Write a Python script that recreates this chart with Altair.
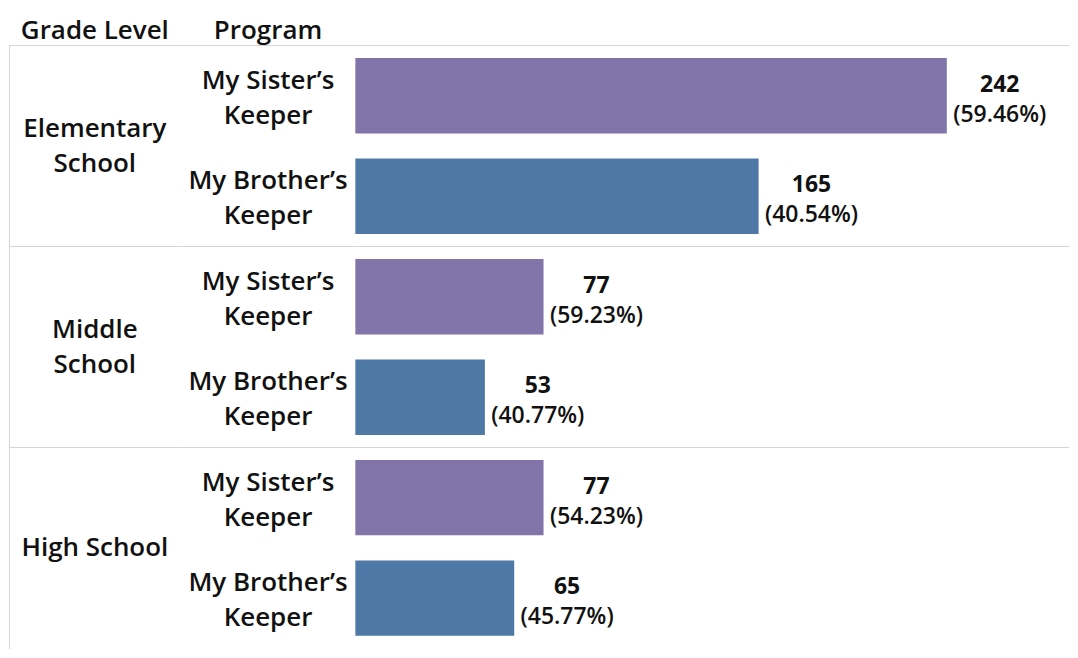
import altair as alt
import pandas as pd

grades = ["Elementary School", "Middle School", "High School"]
grade_line1 = ["Elementary", "Middle", "High School"]
grade_line2 = ["School", "School", ""]
programs = ["My Sister\u2019s Keeper", "My Brother\u2019s Keeper"]
program_line1 = ["My Sister\u2019s", "My Brother\u2019s"]
program_line2 = ["Keeper", "Keeper"]
sister_counts = [242, 77, 77]
brother_counts = [165, 53, 65]
sister_pct = ["59.46%", "59.23%", "54.23%"]
brother_pct = ["40.54%", "40.77%", "45.77%"]
colors = ["#8174a9", "#4e79a7"]

rows = []
for i, g in enumerate(grades):
    for j, p in enumerate(programs):
        cnt = sister_counts[i] if j == 0 else brother_counts[i]
        pct = sister_pct[i] if j == 0 else brother_pct[i]
        rows.append({"grade": g, "program": p,
                     "l1": program_line1[j], "l2": program_line2[j],
                     "count": cnt, "pct": "(" + pct + ")"})
df = pd.DataFrame(rows)
gdf = pd.DataFrame({"grade": grades, "l1": grade_line1, "l2": grade_line2})
gdf["two"] = gdf["l2"] != ""

FONT = "Open Sans"
TXT = "#111111"
LINE = "#d4d4d4"
H = 604

def title(t):
    return alt.TitleParams(text=t, fontSize=26, font=FONT, fontWeight=600,
                           color=TXT, anchor="middle", offset=1)

yscale = alt.Scale(domain=grades, paddingInner=0, paddingOuter=0)
yoff = alt.YOffset("program:N", sort=programs,
                   scale=alt.Scale(domain=programs, paddingInner=0.25, paddingOuter=0.125))
axis_line = alt.Axis(labels=False, ticks=False, title=None, domainColor=LINE,
                     domainWidth=1, grid=False)
Y = lambda ax: alt.Y("grade:N", scale=yscale, sort=grades, axis=ax)
txt_style = dict(font=FONT, fontSize=26, fontWeight=600, color=TXT, align="center")

rule_a = alt.Chart(gdf).mark_rule(color=LINE, strokeWidth=1).encode(
    y=alt.Y("grade:N", bandPosition=0, scale=yscale, sort=grades, axis=axis_line))
base_a = alt.Chart(gdf)
a1 = base_a.mark_text(dy=-17, **txt_style).encode(y=Y(axis_line), text="l1:N").transform_filter("datum.two")
a2 = base_a.mark_text(dy=18, **txt_style).encode(y=Y(axis_line), text="l2:N").transform_filter("datum.two")
a3 = base_a.mark_text(dy=0, **txt_style).encode(y=Y(axis_line), text="l1:N").transform_filter("!datum.two")
panel_a = alt.layer(rule_a, a1, a2, a3).properties(width=172, height=H, title=title("Grade Level"))

rule_b = alt.Chart(gdf).mark_rule(color=LINE, strokeWidth=1).encode(
    y=alt.Y("grade:N", bandPosition=0, scale=yscale, sort=grades, axis=None))
base_b = alt.Chart(df)
b1 = base_b.mark_text(dy=-15, **txt_style).encode(y=Y(None), yOffset=yoff, text="l1:N")
b2 = base_b.mark_text(dy=20, **txt_style).encode(y=Y(None), yOffset=yoff, text="l2:N")
panel_b = alt.layer(rule_b, b1, b2).properties(width=175, height=H, title=title("Program"))

xscale = alt.Scale(domain=[0, 292], nice=False, zero=True)
rule_c = alt.Chart(gdf).mark_rule(color=LINE, strokeWidth=1).encode(
    y=alt.Y("grade:N", bandPosition=0, scale=yscale, sort=grades, axis=axis_line))
bars = alt.Chart(df).mark_bar().encode(
    y=Y(axis_line),
    yOffset=yoff,
    x=alt.X("count:Q", scale=xscale, axis=None),
    color=alt.Color("program:N", scale=alt.Scale(domain=programs, range=colors), legend=None))
num = alt.Chart(df).mark_text(font=FONT, fontSize=23, fontWeight="bold", color=TXT,
                              align="center", baseline="alphabetic", dx=53, dy=-4).encode(
    y=Y(None), yOffset=yoff,
    x=alt.X("count:Q", scale=xscale, axis=None),
    text="count:Q")
pct = alt.Chart(df).mark_text(font=FONT, fontSize=23, fontWeight=600, color=TXT,
                              align="center", baseline="alphabetic", dx=53, dy=26).encode(
    y=Y(None), yOffset=yoff,
    x=alt.X("count:Q", scale=xscale, axis=None),
    text="pct:N")
panel_c = alt.layer(rule_c, bars, num, pct).properties(width=715, height=H, title=title(" "))

chart = alt.hconcat(panel_a, panel_b, panel_c, spacing=0, bounds="flush").properties(
    padding={"top": 9, "left": 0, "right": 0, "bottom": 0}, background="white"
).configure_view(stroke=None)

chart.save("out.html", embed_options={"renderer": "svg", "actions": False})
